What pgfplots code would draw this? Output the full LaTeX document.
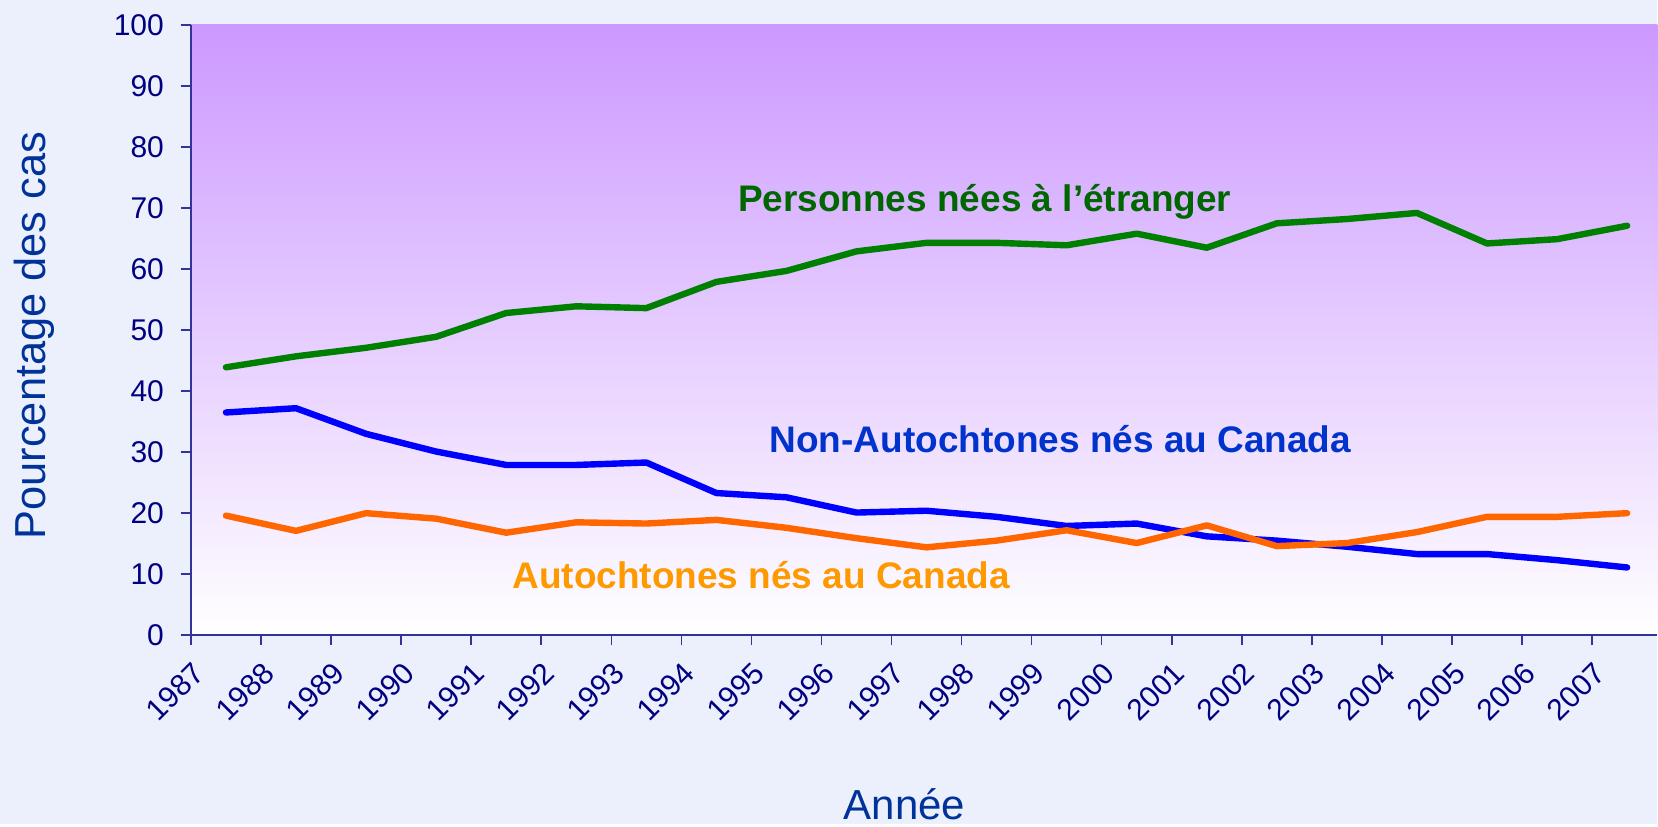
\documentclass[border=0pt]{standalone}
\usepackage{fontspec}
\setmainfont{Liberation Sans}
\usepackage{pgfplots}
\usepackage{pgfplotstable}
\pgfplotsset{compat=1.18}
\usetikzlibrary{backgrounds}

\definecolor{outerbg}{HTML}{ECF0FC}
\definecolor{plottop}{HTML}{CC99FF}
\definecolor{axisline}{HTML}{333399}
\definecolor{ticktext}{HTML}{000080}
\definecolor{titletext}{HTML}{003399}
\definecolor{greenline}{HTML}{008000}
\definecolor{blueline}{HTML}{0000FF}
\definecolor{orangeline}{HTML}{FF6600}
\definecolor{greentext}{HTML}{006600}
\definecolor{bluetext}{HTML}{0033CC}
\definecolor{orangetext}{HTML}{FF9900}

% x = category position (labels sit on integer ticks, points halfway)
\pgfplotstableread{
x    etranger nonautoch autoch
0.5  43.9     36.5      19.6
1.5  45.7     37.2      17.1
2.5  47.1     33.0      20.0
3.5  48.9     30.1      19.1
4.5  52.8     27.9      16.8
5.5  53.9     27.9      18.5
6.5  53.6     28.3      18.3
7.5  57.9     23.3      18.9
8.5  59.7     22.6      17.6
9.5  62.9     20.1      15.9
10.5 64.3     20.4      14.4
11.5 64.3     19.4      15.5
12.5 63.9     17.9      17.2
13.5 65.8     18.3      15.1
14.5 63.5     16.2      18.0
15.5 67.5     15.5      14.6
16.5 68.2     14.5      15.1
17.5 69.2     13.3      16.9
18.5 64.2     13.3      19.4
19.5 64.9     12.3      19.4
20.5 67.1     11.1      20.0
}\data

\begin{document}
\begin{tikzpicture}
\begin{axis}[
  name=main,
  scale only axis,
  width=733.5pt, height=305.25pt,
  xmin=0, xmax=20.93, ymin=0, ymax=100,
  clip=false,
  axis x line*=bottom, axis y line*=left,
  axis line style={-, axisline, line width=0.75pt},
  axis background/.style={top color=plottop, bottom color=white},
  xtick={0,1,...,20},
  xticklabels={1987,1988,1989,1990,1991,1992,1993,1994,1995,1996,1997,
    1998,1999,2000,2001,2002,2003,2004,2005,2006,2007},
  ytick={0,10,...,100},
  tick align=outside, major tick length=5pt,
  tick style={axisline, line width=0.75pt},
  /pgf/number format/assume math mode=true,
  x tick label style={xshift=6.3pt, yshift=-8.9pt, rotate=45, anchor=east,
    text=ticktext, font=\fontsize{15}{15}\selectfont},
  y tick label style={xshift=-5pt, text=ticktext, font=\fontsize{15}{15}\selectfont},
  every axis plot/.append style={line width=3.2pt, line cap=round, line join=round},
]
\addplot[greenline] table[x=x, y=etranger] {\data};
\addplot[blueline] table[x=x, y=nonautoch] {\data};
\addplot[orangeline] table[x=x, y=autoch] {\data};

\node[anchor=base, text=greentext, font=\fontsize{18.5}{18.5}\selectfont\bfseries]
  at (axis cs:11.33,69.45) {Personnes nées à l’étranger};
\node[anchor=base, text=bluetext, font=\fontsize{18.5}{18.5}\selectfont\bfseries]
  at (axis cs:12.41,29.96) {Non-Autochtones nés au Canada};
\node[anchor=base, text=orangetext, font=\fontsize{18.5}{18.5}\selectfont\bfseries]
  at (axis cs:8.14,7.6) {Autochtones nés au Canada};

\node[anchor=base, text=titletext, font=\fontsize{21}{21}\selectfont, yshift=-92.25pt]
  at (rel axis cs:0.4867,0) {Année};
\node[xshift=-78.5pt, rotate=90, text=titletext, font=\fontsize{21.7}{21.7}\selectfont]
  at (rel axis cs:0,0.491) {Pourcentage des cas};
\end{axis}
\begin{scope}[on background layer]
  \fill[outerbg] ([xshift=-95.5pt, yshift=-94.25pt]main.south west)
    rectangle ([yshift=12.5pt]main.north east);
\end{scope}
\end{tikzpicture}
\end{document}
